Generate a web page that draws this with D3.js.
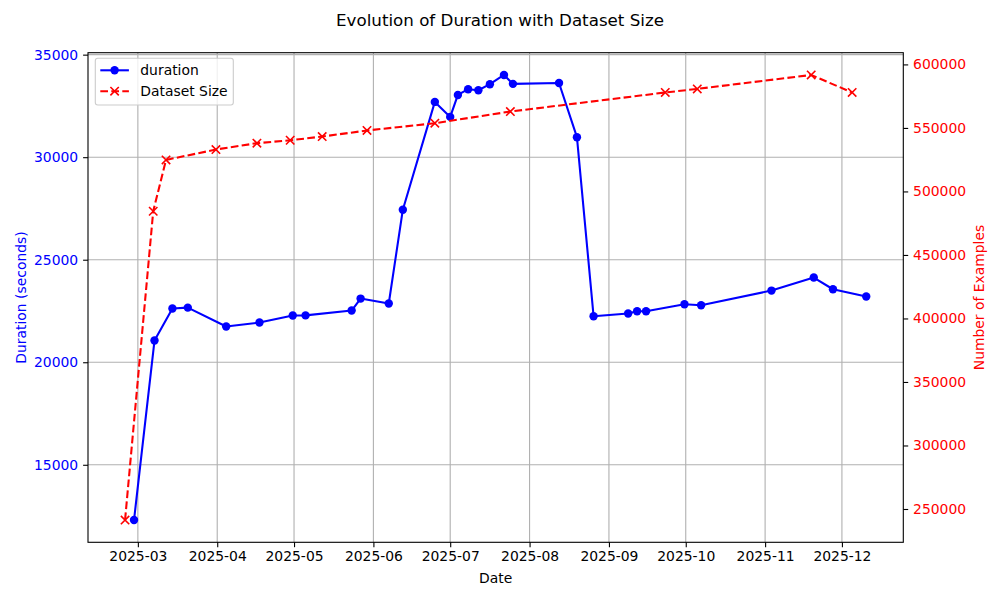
<!DOCTYPE html>
<html>
<head>
<meta charset="utf-8">
<script src="https://cdn.jsdelivr.net/npm/d3@7"></script>
<style>
  html, body { margin: 0; padding: 0; background: #fff; }
  svg { display: block; font-family: "DejaVu Sans", sans-serif; }
</style>
</head>
<body>
<svg id="chart" width="1000" height="600"></svg>
<script>
// ---- Data ----
const durationDates = [
  "2025-02-27T12:00", "2025-03-07T12:00", "2025-03-14T12:00", "2025-03-20T12:00",
  "2025-04-04T12:00", "2025-04-17T12:00", "2025-04-30T12:00", "2025-05-05T12:00",
  "2025-05-23T12:00", "2025-05-27T00:00", "2025-06-07T00:00", "2025-06-12T12:00",
  "2025-06-25T00:00", "2025-07-01T00:00", "2025-07-04T00:00", "2025-07-08T00:00",
  "2025-07-12T00:00", "2025-07-16T12:00", "2025-07-22T00:00", "2025-07-25T12:00",
  "2025-08-12T12:00", "2025-08-19T12:00", "2025-08-26T00:00", "2025-09-08T12:00",
  "2025-09-12T00:00", "2025-09-15T12:00", "2025-09-30T12:00", "2025-10-07T00:00",
  "2025-11-03T12:00", "2025-11-20T00:00", "2025-11-27T12:00", "2025-12-10T12:00"
];
const durationValues = [
  12305, 21060, 22620, 22665,
  21745, 21935, 22280, 22285,
  22520, 23105, 22865, 27440,
  32695, 31965, 33035, 33315,
  33265, 33560, 34010, 33575,
  33620, 30975, 22245, 22375,
  22485, 22490, 22830, 22780,
  23495, 24130, 23560, 23205
];
const sizeDates = [
  "2025-02-24T00:00", "2025-03-07T00:00", "2025-03-12T00:00", "2025-03-31T12:00",
  "2025-04-16T12:00", "2025-04-29T12:00", "2025-05-12T00:00", "2025-05-29T12:00",
  "2025-06-25T00:00", "2025-07-24T12:00", "2025-09-23T00:00", "2025-10-05T12:00",
  "2025-11-19T00:00", "2025-12-05T00:00"
];
const sizeValues = [
  241300, 484400, 524800, 533000,
  538000, 540300, 543200, 548000,
  553700, 562900, 577900, 580700,
  591700, 577900
];
const leftTicks = [15000, 20000, 25000, 30000, 35000];
const rightTicks = [250000, 300000, 350000, 400000, 450000, 500000, 550000, 600000];
const seriesLabels = ["duration", "Dataset Size"];
const titleText = "Evolution of Duration with Dataset Size";
const xLabel = "Date";
const yLeftLabel = "Duration (seconds)";
const yRightLabel = "Number of Examples";

// ---- Layout ----
const W = 1000, H = 600;
const plot = { left: 88, right: 903.3, top: 52.7, bottom: 542.3 };
const BLUE = "#0000ff", RED = "#ff0000";
const parse = d3.utcParse("%Y-%m-%dT%H:%M");

const dur = durationDates.map((d, i) => ({ date: parse(d), value: durationValues[i] }));
const siz = sizeDates.map((d, i) => ({ date: parse(d), value: sizeValues[i] }));

function padded(extent) {
  const span = extent[1] - extent[0];
  return [extent[0] - span * 0.05, extent[1] + span * 0.05];
}
const allDates = dur.map(d => +d.date).concat(siz.map(d => +d.date));
const xd = padded(d3.extent(allDates));
const x = d3.scaleUtc().domain([new Date(xd[0]), new Date(xd[1])]).range([plot.left, plot.right]);
const yL = d3.scaleLinear().domain(padded(d3.extent(durationValues))).range([plot.bottom, plot.top]);
const yR = d3.scaleLinear().domain(padded(d3.extent(sizeValues))).range([plot.bottom, plot.top]);

const svg = d3.select("#chart");
svg.append("rect").attr("width", W).attr("height", H).attr("fill", "#fff");

// grid
const xTickDates = x.ticks(d3.utcMonth.every(1));
const grid = svg.append("g").attr("stroke", "#b0b0b0").attr("stroke-width", 1.1);
xTickDates.forEach(t => grid.append("line")
  .attr("x1", x(t)).attr("x2", x(t)).attr("y1", plot.top).attr("y2", plot.bottom));
leftTicks.forEach(t => grid.append("line")
  .attr("x1", plot.left).attr("x2", plot.right).attr("y1", yL(t)).attr("y2", yL(t)));

// duration line
const lineL = d3.line().x(d => x(d.date)).y(d => yL(d.value));
const gL = svg.append("g");
gL.append("path").datum(dur).attr("d", lineL)
  .attr("fill", "none").attr("stroke", BLUE).attr("stroke-width", 2.08)
  .attr("stroke-linejoin", "round").attr("stroke-linecap", "square");
gL.selectAll("circle").data(dur).join("circle")
  .attr("cx", d => x(d.date)).attr("cy", d => yL(d.value)).attr("r", 4.2)
  .attr("fill", BLUE);

// dataset size line
const lineR = d3.line().x(d => x(d.date)).y(d => yR(d.value));
const gR = svg.append("g");
gR.append("path").datum(siz).attr("d", lineR)
  .attr("fill", "none").attr("stroke", RED).attr("stroke-width", 2.08)
  .attr("stroke-dasharray", "7.7,3.3");
const xs = 4.2;
function xMark(g, cx, cy) {
  g.append("path")
    .attr("d", `M${cx - xs},${cy - xs}L${cx + xs},${cy + xs}M${cx - xs},${cy + xs}L${cx + xs},${cy - xs}`)
    .attr("stroke", RED).attr("stroke-width", 1.6).attr("fill", "none");
}
siz.forEach(d => xMark(gR, x(d.date), yR(d.value)));

// spines
svg.append("rect").attr("x", plot.left).attr("y", plot.top)
  .attr("width", plot.right - plot.left).attr("height", plot.bottom - plot.top)
  .attr("fill", "none").attr("stroke", "#000").attr("stroke-width", 1.1);

// axes
const fs = 13.9;
const axX = svg.append("g").attr("transform", `translate(0,${plot.bottom})`)
  .call(d3.axisBottom(x).tickValues(xTickDates).tickFormat(d3.utcFormat("%Y-%m")).tickSize(4.9).tickPadding(4));
const axL = svg.append("g").attr("transform", `translate(${plot.left},0)`)
  .call(d3.axisLeft(yL).tickValues(leftTicks).tickFormat(d3.format("d")).tickSize(4.9).tickPadding(4.9));
const axR = svg.append("g").attr("transform", `translate(${plot.right},0)`)
  .call(d3.axisRight(yR).tickValues(rightTicks).tickFormat(d3.format("d")).tickSize(4.9).tickPadding(4.9));
[axX, axL, axR].forEach(a => {
  a.select(".domain").remove();
  a.selectAll(".tick line").attr("stroke", "#000").attr("stroke-width", 1.1);
  a.selectAll(".tick text").attr("font-size", fs).attr("font-family", "DejaVu Sans");
});
axX.selectAll(".tick text").attr("fill", "#000");
axL.selectAll(".tick text").attr("fill", BLUE);
axR.selectAll(".tick text").attr("fill", RED);

// labels
svg.append("text").attr("x", 500).attr("y", 26).attr("text-anchor", "middle")
  .attr("font-size", 16.7).attr("fill", "#000").text(titleText);
svg.append("text").attr("x", (plot.left + plot.right) / 2).attr("y", 582.5)
  .attr("text-anchor", "middle").attr("font-size", fs).attr("fill", "#000").text(xLabel);
svg.append("text").attr("transform", `translate(26,${(plot.top + plot.bottom) / 2}) rotate(-90)`)
  .attr("text-anchor", "middle").attr("font-size", fs).attr("fill", BLUE).text(yLeftLabel);
svg.append("text").attr("transform", `translate(984,${(plot.top + plot.bottom) / 2}) rotate(-90)`)
  .attr("text-anchor", "middle").attr("font-size", fs).attr("fill", RED).text(yRightLabel);

// legend
const lg = svg.append("g");
lg.append("rect").attr("x", 95.3).attr("y", 58.3).attr("width", 138).attr("height", 46.7)
  .attr("rx", 2.5).attr("fill", "#fff").attr("fill-opacity", 0.8)
  .attr("stroke", "#cccccc").attr("stroke-width", 1.1);
const rows = [70.3, 91.2];
lg.append("line").attr("x1", 100.3).attr("x2", 128.9).attr("y1", rows[0]).attr("y2", rows[0])
  .attr("stroke", BLUE).attr("stroke-width", 2.08);
lg.append("circle").attr("cx", 114.6).attr("cy", rows[0]).attr("r", 4.2).attr("fill", BLUE);
lg.append("line").attr("x1", 100.3).attr("x2", 128.9).attr("y1", rows[1]).attr("y2", rows[1])
  .attr("stroke", RED).attr("stroke-width", 2.08).attr("stroke-dasharray", "7.7,3.3");
xMark(lg, 114.6, rows[1]);
seriesLabels.forEach((t, i) => lg.append("text").attr("x", 140.3).attr("y", rows[i] + 5)
  .attr("font-size", fs).attr("fill", "#000").text(t));
</script>
</body>
</html>
